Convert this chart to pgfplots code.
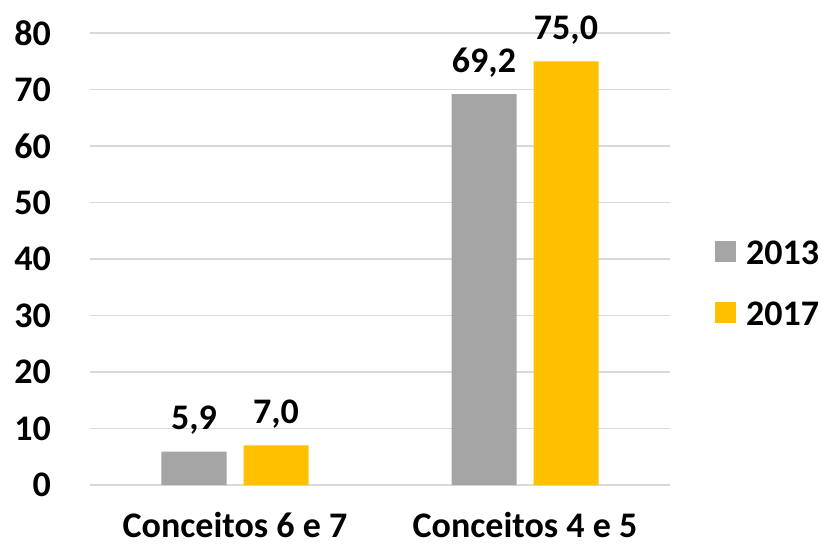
\documentclass[border=0pt]{standalone}
\usepackage{fontspec}
\setmainfont{Carlito}[BoldFont={Carlito Bold}]
\usepackage{pgfplots}
\pgfplotsset{compat=1.18}
\definecolor{bargray}{HTML}{A5A5A5}
\definecolor{bargold}{HTML}{FFC000}
\definecolor{gridgray}{HTML}{D9D9D9}
\newcommand{\chartfont}{\bfseries\fontsize{36}{43}\selectfont}
\begin{document}
\begin{tikzpicture}
\begin{axis}[
  scale only axis,
  width=580pt, height=452pt,
  ybar, bar width=65pt,
  xmin=-0.5, xmax=1.5,
  ymin=0, ymax=80,
  ytick={0,10,...,80},
  xtick=data,
  xticklabels={Conceitos 6 e 7, Conceitos 4 e 5},
  major tick length=0pt,
  axis line style={draw=none},
  ymajorgrids,
  grid style={gridgray, line width=1.5pt},
  font=\chartfont,
  /pgf/number format/assume math mode=true,
  yticklabel style={inner sep=0pt, xshift=-39pt},
  xticklabel style={inner sep=0pt, anchor=base, yshift=-52pt},
  nodes near coords={\pgfmathprintnumber[fixed, fixed zerofill, precision=1, use comma]{\pgfplotspointmeta}},
  nodes near coords style={anchor=base, inner sep=0pt, yshift=22pt, font=\chartfont},
  legend style={draw=none, fill=none, at={(1,0.446)}, anchor=west, xshift=45pt,
    inner sep=0pt, font=\chartfont,
    nodes={inner sep=0pt, text height=23pt, text depth=0pt},
    /tikz/row sep=38pt,
    /tikz/every odd column/.append style={column sep=10pt}},
  legend cell align=left,
  legend image code/.code={\fill[#1] (0pt,-9pt) rectangle (21pt,12pt);},
]
\addplot[fill=bargray, draw=none, bar shift=-41pt] coordinates {(0,5.9) (1,69.2)};
\addplot[fill=bargold, draw=none, bar shift=41pt] coordinates {(0,7.0) (1,75.0)};
\legend{2013,2017}
\end{axis}
\pgfresetboundingbox
\path (-90pt,-62pt) rectangle (735pt,485pt);
\end{tikzpicture}
\end{document}
